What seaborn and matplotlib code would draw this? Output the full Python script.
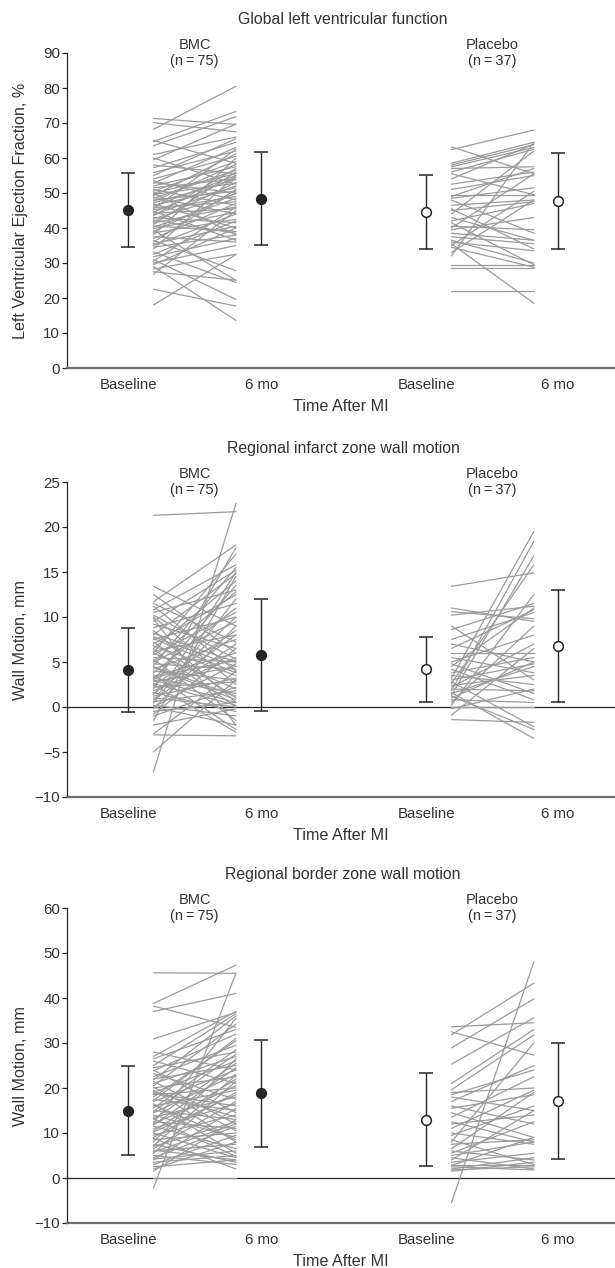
import numpy as np
import pandas as pd
import matplotlib
matplotlib.use("Agg")
import matplotlib.pyplot as plt
import matplotlib.transforms as mtransforms
import seaborn as sns

# ---------------- data ----------------
# Global left ventricular function (LVEF, %)
lvef_bmc_base = [68.2, 71.3, 70.1, 64.7, 63.5, 61.0, 59.5, 58.0, 57.2, 55.8, 54.0, 53.5, 52.8, 52.0, 51.5,
                 51.0, 50.5, 50.0, 49.6, 49.2, 48.8, 48.5, 48.0, 47.6, 47.2, 46.9, 46.5, 46.2, 45.8, 45.5,
                 45.2, 44.8, 44.5, 44.2, 43.8, 43.5, 43.0, 42.6, 42.2, 41.8, 41.5, 41.0, 40.6, 40.2, 39.8,
                 39.4, 39.0, 38.6, 38.0, 37.5, 37.0, 36.5, 36.0, 35.5, 35.0, 34.5, 34.0, 33.2, 32.5, 31.8,
                 31.0, 30.5, 30.0, 29.5, 29.0, 28.3, 27.5, 26.8, 22.5, 18.0, 55.0, 60.0, 65.0, 53.0, 50.0]
lvef_bmc_6mo = [80.5, 69.6, 67.5, 73.3, 71.8, 66.0, 69.7, 55.5, 64.5, 62.0, 60.5, 48.0, 63.0, 57.5, 54.0,
                46.5, 59.0, 55.5, 52.8, 61.2, 44.0, 56.5, 50.5, 58.2, 53.8, 40.0, 51.5, 55.0, 47.5, 62.5,
                49.0, 36.5, 54.5, 45.5, 52.0, 57.0, 41.5, 49.8, 38.5, 53.0, 46.0, 56.0, 39.0, 48.5, 44.5,
                25.0, 50.0, 42.5, 60.0, 36.0, 47.0, 27.8, 51.0, 40.5, 44.0, 38.0, 55.0, 24.4, 42.0, 37.0,
                19.6, 46.0, 35.0, 40.0, 13.6, 32.5, 25.1, 45.0, 17.7, 32.4, 65.5, 52.5, 58.5, 50.0, 38.0]
lvef_pla_base = [62.4, 63.2, 58.5, 58.0, 57.5, 57.0, 56.0, 55.5, 54.0, 52.5, 51.0, 49.5, 49.0, 48.5, 48.0,
                 46.5, 45.5, 45.0, 44.0, 43.0, 42.0, 41.5, 40.5, 39.5, 38.5, 37.5, 36.5, 36.0, 35.5, 35.0,
                 34.5, 33.0, 32.0, 29.3, 28.6, 22.1, 40.0]
lvef_pla_6mo = [68.0, 55.5, 64.5, 63.8, 63.0, 57.5, 62.5, 49.5, 64.0, 56.0, 55.0, 49.5, 57.0, 51.5, 38.5,
                48.0, 34.0, 47.5, 62.0, 36.5, 47.0, 29.5, 39.5, 43.0, 36.5, 35.5, 30.0, 33.5, 18.5, 50.5,
                28.8, 48.0, 64.5, 29.3, 28.6, 22.1, 55.5]

# Regional infarct zone wall motion (mm)
infarct_bmc_base = [21.3, -7.2, 13.4, 11.7, 11.2, 10.8, 10.5, 10.0, 9.5, 9.2, 8.8, 8.5, 8.0, 7.8, 7.5,
                    7.2, 7.0, 6.8, 6.5, 6.2, 6.0, 5.8, 5.5, 5.3, 5.0, 4.8, 4.6, 4.4, 4.2, 4.0,
                    3.8, 3.6, 3.4, 3.2, 3.0, 2.8, 2.6, 2.4, 2.2, 2.0, 1.8, 1.6, 1.4, 1.2, 1.0,
                    0.8, 0.6, 0.4, 0.2, 0.0, -0.2, -0.5, -0.8, -1.0, -1.5, -2.0, -3.1, -5.0, 12.5, 9.8,
                    8.2, 6.4, 5.1, 3.3, 2.5, 1.5, 0.5, 4.5, 7.6, 10.2, 11.5, 6.0, 3.0, -3.0, 0.0]
infarct_bmc_6mo = [21.7, 22.6, 9.0, 18.0, 4.0, 15.8, 13.0, 2.5, 15.2, 6.5, 11.5, 0.5, 14.8, 4.5, 10.0,
                   1.0, 12.5, 3.5, 14.0, 8.0, 2.0, 10.5, 5.0, -1.5, 9.5, 4.2, 15.5, 0.8, 7.5, 3.0,
                   11.0, -2.5, 6.0, 1.5, 13.5, 4.5, 0.2, 8.5, 2.8, 17.7, 5.5, -0.5, 10.0, 3.2, 0.0,
                   7.0, 1.8, 12.0, -1.0, 4.8, 9.0, 0.5, 6.5, 2.2, 14.5, -0.2, -3.2, 3.0, 6.0, -2.0,
                   5.0, 0.0, 12.8, 5.2, -2.8, 8.0, 15.0, 1.2, 3.8, 5.3, 7.2, 17.0, 0.5, 4.0, -2.0]
infarct_pla_base = [13.4, 11.0, 10.6, 10.2, 9.0, 8.6, 7.5, 7.0, 6.5, 6.0, 5.5, 5.0, 4.8, 4.5, 4.2,
                    3.8, 3.5, 3.2, 3.0, 2.8, 2.6, 2.4, 2.2, 2.0, 1.8, 1.6, 1.5, 1.3, 1.2, 1.0,
                    0.8, 0.5, 0.2, -0.2, -0.9, -1.4, 0.0]
infarct_pla_6mo = [14.9, 9.5, 9.8, 11.2, 3.0, 11.5, 10.5, 5.0, 10.8, 6.0, 3.8, 8.0, 1.5, 11.0, 0.8,
                   5.5, 2.5, 19.5, 4.8, -2.2, 15.8, 3.5, 7.0, 1.8, 18.4, -3.5, 4.5, 16.8, -2.5, 5.0,
                   0.5, 9.0, 12.5, 2.0, 6.5, -1.7, 0.0]

# Regional border zone wall motion (mm)
border_bmc_base = [45.6, 38.8, 38.2, 37.0, -2.2, 30.9, 27.0, 26.0, 25.0, 24.5, 23.8, 23.2, 22.5, 22.0, 21.5,
                   21.0, 20.5, 20.0, 19.5, 19.0, 18.5, 18.0, 17.5, 17.0, 16.5, 16.0, 15.5, 15.0, 14.5, 14.0,
                   13.5, 13.0, 12.5, 12.0, 11.5, 11.0, 10.5, 10.0, 9.5, 9.0, 8.5, 8.0, 7.5, 7.0, 6.5,
                   6.0, 5.5, 5.0, 4.5, 4.0, 3.5, 3.0, 2.5, 0.0, 1.5, 28.0, 26.5, 24.0, 21.8, 20.2,
                   18.8, 17.2, 16.2, 14.8, 13.2, 11.8, 10.2, 8.8, 7.2, 5.8, 4.2, 2.0, 12.2, 19.2, 6.2]
border_bmc_6mo = [45.5, 47.3, 33.5, 41.0, 45.5, 36.8, 37.0, 21.0, 36.5, 28.0, 32.0, 17.5, 29.5, 25.0, 12.0,
                  27.0, 34.2, 22.5, 8.0, 26.0, 20.0, 30.5, 15.0, 24.0, 5.5, 19.5, 28.5, 13.0, 23.0, 9.0,
                  18.0, 25.5, 11.0, 20.5, 6.5, 16.5, 22.0, 4.5, 14.0, 19.0, 10.0, 26.5, 3.5, 12.5, 17.0,
                  7.5, 21.5, 3.0, 11.5, 15.5, 5.0, 9.5, 4.0, 0.0, 13.0, 24.0, 33.0, 14.5, 36.0, 10.5,
                  16.0, 31.0, 8.5, 27.5, 4.8, 24.5, 18.5, 2.0, 22.8, 12.0, 6.0, 8.0, 35.5, 13.5, 4.0]
border_pla_base = [-5.5, 33.6, 32.5, 31.8, 28.9, 25.3, 19.6, 19.0, 18.5, 18.0, 17.0, 16.0, 15.5, 14.5, 13.5,
                   12.5, 12.0, 11.0, 10.0, 9.5, 8.5, 8.0, 7.5, 6.5, 6.0, 5.5, 5.0, 4.5, 4.0, 3.5,
                   3.0, 2.8, 2.5, 2.0, 1.8, 1.5, 21.0]
border_pla_6mo = [48.0, 34.5, 27.3, 43.3, 39.8, 35.6, 31.8, 20.0, 24.0, 15.0, 25.0, 12.0, 18.5, 9.0, 22.5,
                  8.0, 14.0, 19.5, 7.5, 16.0, 3.0, 30.0, 8.5, 19.0, 4.0, 12.5, 8.0, 2.0, 15.0, 5.5,
                  3.0, 9.0, 1.8, 4.5, 2.5, 3.5, 33.0]

# group means and SD (baseline, 6 mo) as drawn
lvef_bmc_mean, lvef_bmc_sd = [45.1, 48.4], [10.5, 13.2]
lvef_pla_mean, lvef_pla_sd = [44.6, 47.7], [10.6, 13.6]
infarct_bmc_mean, infarct_bmc_sd = [4.1, 5.8], [4.7, 6.2]
infarct_pla_mean, infarct_pla_sd = [4.2, 6.8], [3.6, 6.2]
border_bmc_mean, border_bmc_sd = [15.0, 18.8], [9.8, 11.8]
border_pla_mean, border_pla_sd = [13.0, 17.2], [10.3, 12.9]

group_names = ["BMC\n(n\u2009=\u200975)", "Placebo\n(n\u2009=\u200937)"]
tick_labels = ["Baseline", "6 mo", "Baseline", "6 mo"]

# ---------------- layout ----------------
# marker positions (baseline, 6 mo) and spaghetti ends for each group
MARK_X = [(0.0, 1.0), (2.24, 3.23)]
LINE_X = [(0.19, 0.81), (2.43, 3.05)]
X_LIM = (-0.46, 3.66)

LINE_GREY = "#9b9b9b"
INK = "#262626"
TEXT = "#333333"

sns.set_theme(style="ticks")
plt.rcParams['font.family'] = ['Liberation Sans', 'DejaVu Sans']
plt.rcParams['axes.unicode_minus'] = True


def long_frame(baseline, followup, x0, x1):
    n = len(baseline)
    return pd.DataFrame({
        'subject': np.tile(np.arange(n), 2),
        'pos': [x0] * n + [x1] * n,
        'value': list(baseline) + list(followup),
    })


def draw_panel(ax, title, ylabel, ylim, yticks, groups, zero_line):
    top_blend = mtransforms.blended_transform_factory(ax.transData, ax.transAxes)
    for g, (base, follow, mean, sd) in enumerate(groups):
        frame = long_frame(base, follow, *LINE_X[g])
        sns.lineplot(data=frame, x='pos', y='value', units='subject', estimator=None,
                     color=LINE_GREY, linewidth=0.9, legend=False, ax=ax)
        face = INK if g == 0 else 'white'
        ax.errorbar(MARK_X[g], mean, yerr=sd, fmt='o', color=INK, ecolor=INK,
                    markersize=7, markerfacecolor=face, markeredgecolor=INK,
                    markeredgewidth=1.1, elinewidth=1.0, capsize=5, capthick=1.0, zorder=5)
        ax.text(np.mean(LINE_X[g]), 1.0, group_names[g], transform=top_blend,
                ha='center', va='center', fontsize=10.5, color=TEXT, linespacing=1.25)

    if zero_line:
        ax.axhline(0, color=INK, linewidth=0.9, zorder=1)

    ax.set_xlim(*X_LIM)
    ax.set_ylim(*ylim)
    ax.set_yticks(yticks)
    ax.set_xticks([MARK_X[0][0], MARK_X[0][1], MARK_X[1][0], MARK_X[1][1]])
    ax.set_xticklabels(tick_labels)
    ax.tick_params(axis='x', length=0, pad=7, labelsize=10.8, labelcolor=TEXT)
    ax.tick_params(axis='y', length=3.5, width=0.9, pad=1.5, labelsize=10.8,
                   labelcolor=TEXT, color=INK)
    ax.set_xlabel("Time After MI", fontsize=11.6, color=TEXT, labelpad=5)
    ax.set_ylabel(ylabel, fontsize=11.6, color=TEXT)
    ax.yaxis.set_label_coords(-0.071, 0.5)
    ax.text(0.504, 1.0 + 33 / 315, title, transform=ax.transAxes, ha='center',
            va='center', fontsize=11.4, color=TEXT)

    sns.despine(ax=ax)
    ax.spines['left'].set_color(INK)
    ax.spines['left'].set_linewidth(0.9)
    ax.spines['bottom'].set_color('#6e6e6e')
    ax.spines['bottom'].set_linewidth(1.6)


figure = plt.figure(figsize=(6.15, 12.68), dpi=100)
left, width, height = 67 / 615, 548 / 615, 315 / 1268
bottoms = [1 - 368 / 1268, 1 - 797 / 1268, 1 - 1223 / 1268]
axes = [figure.add_axes([left, b, width, height]) for b in bottoms]

draw_panel(axes[0], "Global left ventricular function",
           "Left Ventricular Ejection Fraction, %", (0, 90), np.arange(0, 91, 10),
           [(lvef_bmc_base, lvef_bmc_6mo, lvef_bmc_mean, lvef_bmc_sd),
            (lvef_pla_base, lvef_pla_6mo, lvef_pla_mean, lvef_pla_sd)], False)
draw_panel(axes[1], "Regional infarct zone wall motion",
           "Wall Motion, mm", (-10, 25), np.arange(-10, 26, 5),
           [(infarct_bmc_base, infarct_bmc_6mo, infarct_bmc_mean, infarct_bmc_sd),
            (infarct_pla_base, infarct_pla_6mo, infarct_pla_mean, infarct_pla_sd)], True)
draw_panel(axes[2], "Regional border zone wall motion",
           "Wall Motion, mm", (-10, 60), np.arange(-10, 61, 10),
           [(border_bmc_base, border_bmc_6mo, border_bmc_mean, border_bmc_sd),
            (border_pla_base, border_pla_6mo, border_pla_mean, border_pla_sd)], True)

figure.savefig("out.png", dpi=100, facecolor='white')
plt.close(figure)
